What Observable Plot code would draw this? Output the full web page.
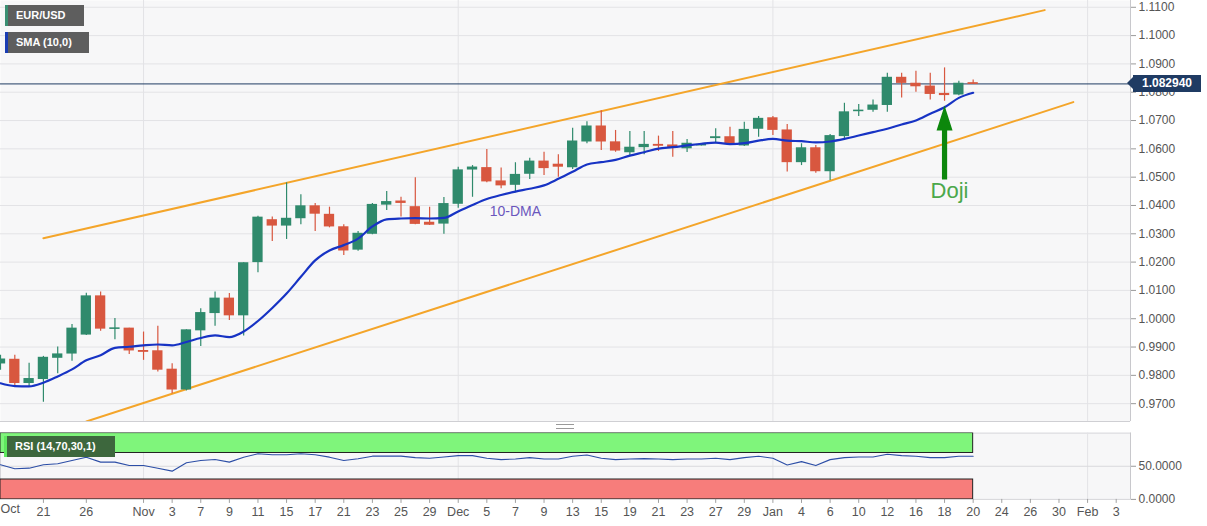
<!DOCTYPE html>
<html>
<head>
<meta charset="utf-8">
<script src="https://cdn.jsdelivr.net/npm/d3@7"></script>
<script src="https://cdn.jsdelivr.net/npm/@observablehq/plot@0.6"></script>
<style>
  html, body { margin: 0; padding: 0; background: #ffffff; }
  #wrap { position: relative; width: 1207px; height: 526px; overflow: hidden; font-family: "Liberation Sans", Arial, sans-serif; }
  #wrap svg { position: absolute; left: 0; }
  .tag { position: absolute; color: #fff; font-weight: bold; font-size: 11px; line-height: 21px; height: 21px; padding-left: 8px; box-sizing: border-box; white-space: nowrap; z-index: 5; }
</style>
</head>
<body>
<div id="wrap"></div>
<script>
// ---------- data ----------
const dates = [
  "2022-10-18","2022-10-19","2022-10-20","2022-10-21","2022-10-24","2022-10-25","2022-10-26","2022-10-27","2022-10-28","2022-10-31",
  "2022-11-01","2022-11-02","2022-11-03","2022-11-04","2022-11-07","2022-11-08","2022-11-09","2022-11-10","2022-11-11","2022-11-14","2022-11-15","2022-11-16","2022-11-17","2022-11-18","2022-11-21","2022-11-22","2022-11-23","2022-11-24","2022-11-25","2022-11-28","2022-11-29","2022-11-30",
  "2022-12-01","2022-12-02","2022-12-05","2022-12-06","2022-12-07","2022-12-08","2022-12-09","2022-12-12","2022-12-13","2022-12-14","2022-12-15","2022-12-16","2022-12-19","2022-12-20","2022-12-21","2022-12-22","2022-12-23","2022-12-26","2022-12-27","2022-12-28","2022-12-29","2022-12-30",
  "2023-01-02","2023-01-03","2023-01-04","2023-01-05","2023-01-06","2023-01-09","2023-01-10","2023-01-11","2023-01-12","2023-01-13","2023-01-16","2023-01-17","2023-01-18","2023-01-19","2023-01-20"
];
const open = [
  0.9842,0.9855,0.9773,0.9787,0.9862,0.9877,0.9944,1.0079,0.9964,0.9965,
  0.9886,0.9885,0.9820,0.9750,0.9959,1.0020,1.0071,1.0012,1.0200,1.0348,1.0329,1.0355,1.0397,1.0367,1.0323,1.0244,1.0300,1.0403,1.0414,1.0394,1.0339,1.0336,
  1.0406,1.0527,1.0532,1.0485,1.0473,1.0512,1.0555,1.0544,1.0535,1.0626,1.0679,1.0623,1.0588,1.0606,1.0614,1.0612,1.0602,1.0612,1.0638,1.0641,1.0612,1.0671,
  1.0708,1.0665,1.0553,1.0602,1.0521,1.0645,1.0733,1.0738,1.0755,1.0851,1.0830,1.0820,1.0794,1.0792,1.0832
];
const high = [
  0.9871,0.9871,0.9843,0.9867,0.9900,0.9980,1.0090,1.0094,1.0001,0.9966,
  0.9953,0.9973,0.9841,0.9961,1.0035,1.0094,1.0089,1.0198,1.0362,1.0359,1.0480,1.0438,1.0407,1.0394,1.0332,1.0308,1.0407,1.0449,1.0429,1.0498,1.0394,1.0428,
  1.0535,1.0541,1.0598,1.0532,1.0551,1.0567,1.0588,1.0579,1.0673,1.0696,1.0735,1.0665,1.0661,1.0661,1.0645,1.0661,1.0633,1.0616,1.0671,1.0676,1.0694,1.0714,
  1.0714,1.0686,1.0618,1.0612,1.0651,1.0761,1.0757,1.0773,1.0867,1.0867,1.0874,1.0867,1.0886,1.0839,1.0843
];
const low = [
  0.9818,0.9759,0.9759,0.9705,0.9806,0.9850,0.9941,0.9956,0.9926,0.9874,
  0.9853,0.9812,0.9735,0.9745,0.9902,0.9973,0.9994,0.9939,1.0162,1.0273,1.0280,1.0332,1.0308,1.0321,1.0223,1.0238,1.0297,1.0382,1.0359,1.0332,1.0329,1.0298,
  1.0390,1.0429,1.0480,1.0459,1.0445,1.0492,1.0506,1.0500,1.0527,1.0618,1.0594,1.0588,1.0576,1.0579,1.0591,1.0570,1.0587,1.0610,1.0618,1.0612,1.0608,1.0641,
  1.0647,1.0518,1.0541,1.0514,1.0488,1.0635,1.0714,1.0729,1.0729,1.0780,1.0800,1.0773,1.0768,1.0788,1.0827
];
const close = [
  0.9856,0.9773,0.9787,0.9862,0.9874,0.9965,1.0079,0.9965,0.9966,0.9888,
  0.9883,0.9820,0.9750,0.9959,1.0020,1.0071,1.0012,1.0196,1.0357,1.0329,1.0353,1.0397,1.0371,1.0326,1.0241,1.0300,1.0402,1.0412,1.0409,1.0335,1.0332,1.0405,
  1.0524,1.0534,1.0485,1.0471,1.0508,1.0555,1.0532,1.0537,1.0626,1.0679,1.0626,1.0594,1.0604,1.0614,1.0611,1.0604,1.0618,1.0614,1.0641,1.0618,1.0667,1.0706,
  1.0667,1.0553,1.0602,1.0521,1.0645,1.0729,1.0735,1.0753,1.0851,1.0833,1.0821,1.0794,1.0790,1.0830,1.08294
];
const sma10 = [
  0.9772,0.9762,0.9761,0.9774,0.9796,0.9821,0.9853,0.9871,0.9897,0.9901,
  0.9906,0.9909,0.9906,0.9918,0.9932,0.9941,0.9935,0.9955,0.9992,1.0038,1.0089,1.0148,1.0206,1.0241,1.0260,1.0283,1.0326,1.0351,1.0354,1.0355,1.0354,1.0356,
  1.0379,1.0402,1.0423,1.0437,1.0449,1.0459,1.0471,1.0494,1.0519,1.0545,1.0553,1.0561,1.0576,1.0588,1.0601,1.0606,1.0612,1.0618,1.0622,1.0617,1.0620,1.0629,
  1.0635,1.0629,1.0627,1.0623,1.0626,1.0635,1.0647,1.0659,1.0671,1.0686,1.0700,1.0724,1.0747,1.0780,1.0798
];
const rsi14 = [
  52.2,46.2,47.1,52.2,53.7,58.7,63.7,56.2,56.2,51.2,
  51.2,47.1,42.6,55.2,58.7,60.2,56.2,63.7,68.8,67.3,67.3,68.8,67.3,63.7,58.7,61.3,65.2,65.2,65.2,63,62,64,
  66,66,62,60,61,63,61,61,65,67,62,60,61,61.5,61,60,61,61,62,60,63,65,
  62,52,57,51,60,63,64,64,68,66,65,63,63,65,65
];
const tickDates = ["2022-10-21","2022-10-26","2022-11-01","2022-11-03","2022-11-07","2022-11-09","2022-11-11","2022-11-15","2022-11-17","2022-11-21","2022-11-23","2022-11-25","2022-11-29","2022-12-01","2022-12-05","2022-12-07","2022-12-09","2022-12-13","2022-12-15","2022-12-19","2022-12-21","2022-12-23","2022-12-27","2022-12-29","2023-01-02","2023-01-04","2023-01-06","2023-01-10","2023-01-12","2023-01-16","2023-01-18","2023-01-20","2023-01-24","2023-01-26","2023-01-30","2023-02-01","2023-02-03"];
const tickLabels = ["21","26","Nov","3","7","9","11","15","17","21","23","25","29","Dec","5","7","9","13","15","19","21","23","27","29","Jan","4","6","10","12","16","18","20","24","26","30","Feb","3"];
const firstLabel = {date: "2022-10-18", text: "Oct"};
const monthStarts = ["2022-11-01","2022-12-01","2023-01-02","2023-02-01"];
const priceTicks = [0.97,0.98,0.99,1.00,1.01,1.02,1.03,1.04,1.05,1.06,1.07,1.08,1.09,1.10,1.11];
const rsiTicks = [0, 50];
const rsiUpperBand = [70, 100];
const rsiLowerBand = [0, 30];
const upperDates = ["2022-10-21","2023-01-27"];
const upperPrices = [1.0284, 1.1090];
const lowerDates = ["2022-10-26","2023-01-31"];
const lowerPrices = [0.9637, 1.0765];
const lastPrice = 1.08294;
const dmaLabel = {date: "2022-12-07", price: 1.0379, text: "10-DMA"};
const doji = {date: "2023-01-18", tip: 1.0753, labelPrice: 1.0453, text: "Doji"};

// ---------- helpers ----------
const ORIGIN = Date.UTC(2022, 9, 21);
function idx(s) {
  const t = Date.parse(s + "T00:00:00Z");
  let n = 0;
  if (t >= ORIGIN) {
    for (let u = ORIGIN + 864e5; u <= t; u += 864e5) { const w = new Date(u).getUTCDay(); if (w !== 0 && w !== 6) n++; }
  } else {
    for (let u = ORIGIN - 864e5; u >= t; u -= 864e5) { const w = new Date(u).getUTCDay(); if (w !== 0 && w !== 6) n--; }
  }
  return n;
}
const candles = dates.map((d, k) => ({i: idx(d), o: open[k], h: high[k], l: low[k], c: close[k]}));
const up = candles.filter(d => d.c >= d.o);
const down = candles.filter(d => d.c < d.o);
const smaData = dates.map((d, k) => ({i: idx(d), v: sma10[k]}));
const rsiData = dates.map((d, k) => ({i: idx(d), v: rsi14[k]}));
const upper = upperDates.map((d, k) => ({i: idx(d), p: upperPrices[k]}));
const lower = lowerDates.map((d, k) => ({i: idx(d), p: lowerPrices[k]}));
const labelMap = new Map(tickDates.map((d, k) => [idx(d), tickLabels[k]]));
const tickIdx = tickDates.map(idx);
const monthIdx = monthStarts.map(idx);
const firstIdx = idx(dates[0]), lastIdx = idx(dates[dates.length - 1]);

const W = 1207, AX = 1130;
const xDomain = [-3, 76];
const priceDomain = [0.9637, 1.1124];
const GREEN = "#2f8a6c", RED = "#d8573f", ORANGE = "#f4a52a", BLUE = "#1733c4";
const GRID = "#e3e3e6", BG = "#f7f7f8";
const font = "'Liberation Sans', Arial, sans-serif";
const style = {fontFamily: font, background: "transparent", overflow: "visible"};

const arrowSymbol = {
  draw(ctx) {
    const hw = 8, hl = 25, sw = 2.6, L = 74;
    ctx.moveTo(0, 0); ctx.lineTo(hw, hl); ctx.lineTo(sw, hl); ctx.lineTo(sw, L);
    ctx.lineTo(-sw, L); ctx.lineTo(-sw, hl); ctx.lineTo(-hw, hl); ctx.closePath();
  }
};

// ---------- price pane ----------
const pricePlot = Plot.plot({
  width: W, height: 421, marginTop: 0, marginBottom: 0, marginLeft: 0, marginRight: W - AX,
  style,
  x: {domain: xDomain, axis: null},
  y: {domain: priceDomain, axis: null},
  marks: [
    Plot.frame({fill: BG, stroke: null}),
    Plot.gridY(priceTicks, {stroke: GRID, strokeOpacity: 1}),
    Plot.gridX(monthIdx, {stroke: GRID, strokeOpacity: 1}),
    Plot.ruleY([lastPrice], {stroke: "#1f3b63", strokeWidth: 1}),
    Plot.line(upper, {x: "i", y: "p", stroke: ORANGE, strokeWidth: 2, clip: true}),
    Plot.line(lower, {x: "i", y: "p", stroke: ORANGE, strokeWidth: 2, clip: true}),
    Plot.ruleX(up, {x: "i", y1: "l", y2: "h", stroke: GREEN, strokeWidth: 1.2, clip: true}),
    Plot.ruleX(down, {x: "i", y1: "l", y2: "h", stroke: RED, strokeWidth: 1.2, clip: true}),
    Plot.rect(up, {x1: d => d.i - 0.36, x2: d => d.i + 0.36, y1: "o", y2: "c", fill: GREEN, insetTop: -0.5, insetBottom: -0.5, clip: true}),
    Plot.rect(down, {x1: d => d.i - 0.36, x2: d => d.i + 0.36, y1: "o", y2: "c", fill: RED, insetTop: -0.5, insetBottom: -0.5, clip: true}),
    Plot.line(smaData, {x: "i", y: "v", stroke: BLUE, strokeWidth: 2.2, curve: "monotone-x", clip: true}),
    Plot.text([dmaLabel], {x: d => idx(d.date), y: "price", text: "text", fill: "#6a56bd", fontSize: 14}),
    Plot.dot([doji], {x: d => idx(d.date), y: "tip", symbol: arrowSymbol, fill: "#0c870c", stroke: "none"}),
    Plot.text([doji], {x: d => idx(d.date), y: "labelPrice", text: "text", fill: "#4ba84b", fontSize: 22, dx: 5}),
    Plot.ruleY([priceDomain[0]], {stroke: "#cfcfd3"}),
    Plot.ruleX([xDomain[1]], {stroke: "#c8c8cc"}),
    Plot.axisY({anchor: "right", label: null, ticks: priceTicks, tickFormat: d => d.toFixed(4), tickSize: 5, tickPadding: 3, fontSize: 12, fill: "#555", stroke: "#9a9a9a"})
  ]
});
pricePlot.style.top = "0px";

// ---------- RSI pane + date axis ----------
const rsiPlot = Plot.plot({
  width: W, height: 94, marginTop: 0.6, marginBottom: 27.1, marginLeft: 0, marginRight: W - AX,
  style,
  x: {domain: xDomain, axis: null},
  y: {domain: [0, 100], axis: null},
  marks: [
    Plot.frame({fill: BG, stroke: "#d6d6da"}),
    Plot.gridX(monthIdx, {stroke: GRID, strokeOpacity: 1}),
    Plot.gridY([50], {stroke: "#d9d9dc", strokeOpacity: 1}),
    Plot.rect([rsiUpperBand], {x1: firstIdx, x2: lastIdx, y1: d => d[0], y2: d => d[1], fill: "#7ff57b", stroke: "#222", strokeWidth: 1, clip: true}),
    Plot.rect([rsiLowerBand], {x1: firstIdx, x2: lastIdx, y1: d => d[0], y2: d => d[1], fill: "#f77d7b", stroke: "#222", strokeWidth: 1, clip: true}),
    Plot.line(rsiData, {x: "i", y: "v", stroke: "#2c4ea6", strokeWidth: 1.1, clip: true}),
    Plot.ruleX([xDomain[1]], {stroke: "#c8c8cc"}),
    Plot.axisY({anchor: "right", label: null, ticks: rsiTicks, tickFormat: d => d.toFixed(4), tickSize: 5, tickPadding: 3, fontSize: 12, fill: "#555", stroke: "#9a9a9a"}),
    Plot.axisX({anchor: "bottom", label: null, ticks: tickIdx, tickFormat: d => labelMap.get(d), tickSize: 4, tickPadding: 4, fontSize: 12.5, fill: "#555", stroke: "#a0a0a0"}),
    Plot.text([firstLabel], {x: d => idx(d.date), text: "text", frameAnchor: "bottom", textAnchor: "start", dy: 14, fontSize: 12.5, fill: "#555"})
  ]
});
rsiPlot.style.top = "432px";

const wrap = document.getElementById("wrap");
wrap.appendChild(pricePlot);
wrap.appendChild(rsiPlot);

// ---------- legend tags ----------
function tag(text, left, top, width, bg, bar) {
  const el = document.createElement("div");
  el.className = "tag";
  el.textContent = text;
  Object.assign(el.style, {left: left + "px", top: top + "px", width: width + "px", background: bg, borderLeft: "3px solid " + bar});
  wrap.appendChild(el);
}
tag("EUR/USD", 5, 5, 79, "#5e5e5e", "#3a8f72");
tag("SMA (10,0)", 5, 32, 84, "#5e5e5e", "#1b3db3");
tag("RSI (14,70,30,1)", 4, 436, 111, "#3d673d", "#5ee85e");

// handle between panes
const handle = document.createElement("div");
Object.assign(handle.style, {position: "absolute", left: "556px", top: "424px", width: "18px", height: "3px", borderTop: "1px solid #999", borderBottom: "1px solid #999"});
wrap.appendChild(handle);

// last price tag on the right axis
const yPx = pricePlot.scale("y").apply(lastPrice);
const box = document.createElement("div");
box.textContent = lastPrice.toFixed(6);
Object.assign(box.style, {position: "absolute", left: (AX + 3) + "px", top: (yPx - 8.5) + "px", width: "68px", height: "17px", lineHeight: "17px", background: "#1f3b63", color: "#fff", fontWeight: "bold", fontSize: "12px", textAlign: "center", zIndex: 6});
wrap.appendChild(box);
const ptr = document.createElement("div");
Object.assign(ptr.style, {position: "absolute", left: (AX - 3) + "px", top: (yPx - 6) + "px", width: 0, height: 0, borderTop: "6px solid transparent", borderBottom: "6px solid transparent", borderRight: "6px solid #1f3b63", zIndex: 6});
wrap.appendChild(ptr);
</script>
</body>
</html>
